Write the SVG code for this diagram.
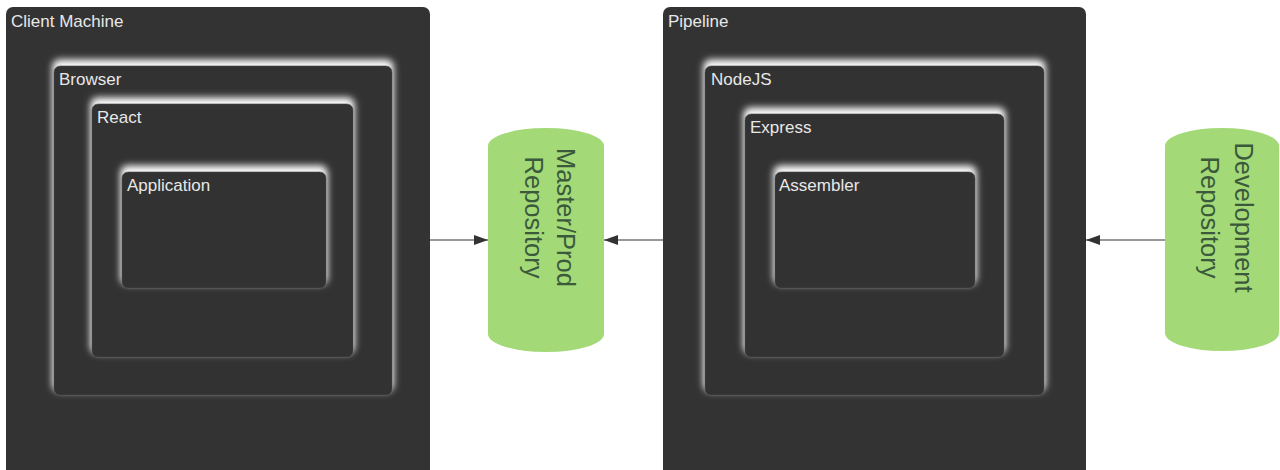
<svg xmlns="http://www.w3.org/2000/svg" width="1280" height="470" viewBox="0 0 1280 470">
  <style>
    .outer { fill: #333333; }
    .inner { fill: #333333; stroke: #3c3c3c; stroke-width: 1; filter: url(#glow); }
    .lbl { font-family: "Liberation Sans", Arial, sans-serif; font-size: 17px; fill: #e8e8e8; }
    .repo { fill: #a3d977; }
    .rlbl { font-family: "Liberation Sans", Arial, sans-serif; font-size: 25.5px; fill: #3b5a3b; text-anchor: middle; }
    .conn { stroke: #333333; stroke-width: 1.2; fill: none; marker-end: url(#arrow); }
  </style>
  <defs>
    <filter id="glow" x="-10%" y="-15%" width="120%" height="130%">
      <feMorphology in="SourceAlpha" operator="dilate" radius="1" result="d"/>
      <feGaussianBlur in="d" stdDeviation="3.5" result="b"/>
      <feOffset in="b" dy="-5" result="o"/>
      <feFlood flood-color="#ffffff" flood-opacity="1"/>
      <feComposite in2="o" operator="in" result="s"/>
      <feMerge>
        <feMergeNode in="s"/>
        <feMergeNode in="SourceGraphic"/>
      </feMerge>
    </filter>
    <marker id="arrow" viewBox="0 0 14 10" refX="14" refY="5" markerWidth="14" markerHeight="10" markerUnits="userSpaceOnUse" orient="auto">
      <path d="M0,0 L14,5 L0,10 Z" fill="#333333"/>
    </marker>
  </defs>

  <g id="client-machine">
    <rect class="outer" x="6" y="7" width="424" height="470" rx="7"/>
    <text class="lbl" x="11" y="27">Client Machine</text>
  </g>
  <g id="browser">
    <rect class="inner" x="54" y="66" width="338" height="329" rx="6"/>
    <text class="lbl" x="59" y="85">Browser</text>
  </g>
  <g id="react">
    <rect class="inner" x="92" y="104" width="261" height="253" rx="6"/>
    <text class="lbl" x="97" y="123">React</text>
  </g>
  <g id="application">
    <rect class="inner" x="122" y="172" width="204" height="116" rx="6"/>
    <text class="lbl" x="127" y="191">Application</text>
  </g>

  <g id="pipeline">
    <rect class="outer" x="663" y="7" width="423" height="470" rx="7"/>
    <text class="lbl" x="668" y="27">Pipeline</text>
  </g>
  <g id="nodejs">
    <rect class="inner" x="705" y="66" width="339" height="329" rx="6"/>
    <text class="lbl" x="711" y="85">NodeJS</text>
  </g>
  <g id="express">
    <rect class="inner" x="745" y="114" width="259" height="243" rx="6"/>
    <text class="lbl" x="750" y="133">Express</text>
  </g>
  <g id="assembler">
    <rect class="inner" x="775" y="172" width="200" height="116" rx="6"/>
    <text class="lbl" x="779" y="191">Assembler</text>
  </g>

  <g id="master-prod-repository">
    <path class="repo" d="M488,146 A58,18 0 0 1 604,146 L604,334 A58,18 0 0 1 488,334 Z"/>
    <text class="rlbl" transform="translate(557,217.5) rotate(90)">Master/Prod</text>
    <text class="rlbl" transform="translate(525,217.5) rotate(90)">Repository</text>
  </g>

  <g id="development-repository">
    <path class="repo" d="M1165,146 A57,18 0 0 1 1279,146 L1279,333 A57,18 0 0 1 1165,333 Z"/>
    <text class="rlbl" transform="translate(1235,217.5) rotate(90)">Development</text>
    <text class="rlbl" transform="translate(1201,217.5) rotate(90)">Repository</text>
  </g>

  <g id="connectors">
    <line class="conn" x1="430" y1="240" x2="488" y2="240"/>
    <line class="conn" x1="663" y1="240" x2="604" y2="240"/>
    <line class="conn" x1="1165" y1="240" x2="1086" y2="240"/>
  </g>
</svg>
